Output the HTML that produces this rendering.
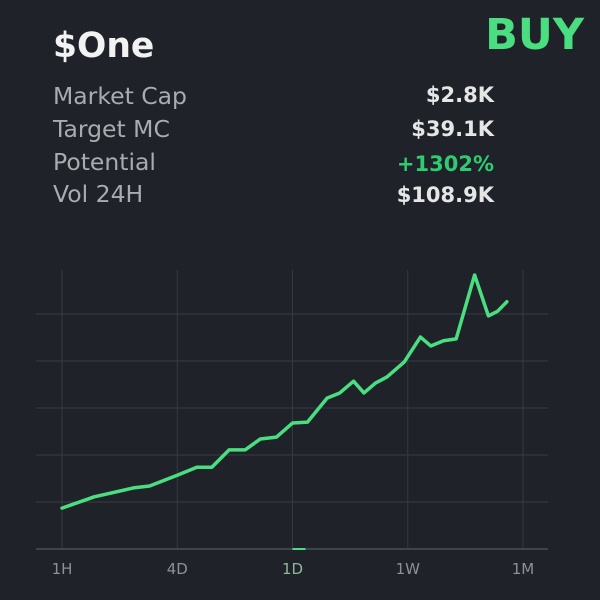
<!DOCTYPE html>
<html><head><meta charset="utf-8"><style>
body{margin:0;background:#1f2229;width:600px;height:600px;overflow:hidden;font-family:"DejaVu Sans","Liberation Sans",sans-serif;position:relative}
.t{position:absolute;white-space:nowrap}
.l{left:53px;font-size:23.5px;color:#a9abaf}
.v{right:106px;font-size:21px;font-weight:bold;color:#e6e6e6}
</style></head><body>
<div class="t" style="left:53px;top:26px;font-size:34.5px;font-weight:bold;color:#f2f2f2">$One</div>
<div class="t" style="right:16px;top:10px;font-size:43px;font-weight:bold;color:#4ade80">BUY</div>
<div class="t l" style="top:82px">Market Cap</div>
<div class="t v" style="top:83px">$2.8K</div>
<div class="t l" style="top:115px">Target MC</div>
<div class="t v" style="top:117px">$39.1K</div>
<div class="t l" style="top:148px">Potential</div>
<div class="t v" style="top:152px;color:#2ecc71">+1302%</div>
<div class="t l" style="top:180px">Vol 24H</div>
<div class="t v" style="top:183px">$108.9K</div>
<svg id="chart" width="600" height="600" style="position:absolute;left:0;top:0"></svg>
<script>
const xTickLabels=["1H","4D","1D","1W","1M"];
const seriesX=[0,.28,.62,.76,1.0,1.17,1.30,1.45,1.59,1.72,1.86,2.00,2.13,2.30,2.41,2.53,2.62,2.72,2.82,2.97,3.11,3.20,3.31,3.42,3.58,3.70,3.78,3.86];
const seriesY=[.87,1.11,1.30,1.34,1.57,1.74,1.74,2.11,2.11,2.34,2.38,2.68,2.70,3.21,3.32,3.57,3.32,3.53,3.66,3.98,4.51,4.32,4.43,4.47,5.83,4.96,5.06,5.26];
const yGrid=[1,2,3,4,5];
const NS="http://www.w3.org/2000/svg";
const svg=document.getElementById('chart');
const xs=u=>62+u*115.25, ys=v=>549-v*47;
function mk(t,a){const e=document.createElementNS(NS,t);for(const k in a)e.setAttribute(k,a[k]);svg.appendChild(e);return e;}
yGrid.forEach(v=>{const e=mk('line',{x1:36,x2:548,y1:ys(v),y2:ys(v),stroke:'#383c44','stroke-width':1});

});
xTickLabels.forEach((s,i)=>{const g=mk('line',{x1:xs(i),x2:xs(i),y1:270,y2:549,stroke:'#353941','stroke-width':1});


const t=mk('text',{x:xs(i),y:574,'text-anchor':'middle','font-size':15,fill:i==2?'#8fb896':'#8d9096','font-family':'DejaVu Sans, sans-serif'});t.textContent=s;

});
const ax=mk('line',{x1:36,x2:548,y1:549,y2:549,stroke:'#4a4e56','stroke-width':1.5});


const mark=mk('line',{x1:xs(2),x2:xs(2)+13,y1:549,y2:549,stroke:'#4ade80','stroke-width':2});


const p=mk('polyline',{points:seriesX.map((x,i)=>xs(x)+','+ys(seriesY[i])).join(' '),fill:'none',stroke:'#4ade80','stroke-width':3.5,'stroke-linejoin':'round','stroke-linecap':'round'});


</script>
</body></html>
